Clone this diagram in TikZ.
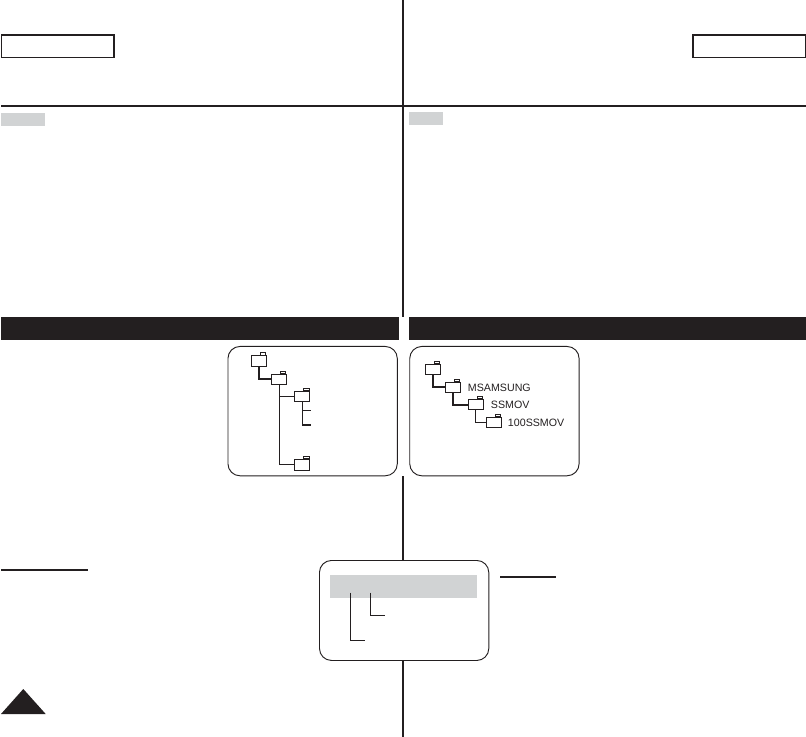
\documentclass[tikz,border=0pt]{standalone}
\usepackage{xcolor}
\usepackage{fontspec}
\setmainfont{Liberation Sans}
\usetikzlibrary{
  positioning
}
\definecolor{pgInk}{HTML}{231F20}
\definecolor{pgGrey}{HTML}{D1D3D4}
\tikzset{
  tabbox/.style={draw=pgInk, line width=1pt, inner sep=0pt, minimum width=84.2pt, minimum height=16.9pt, anchor=north west},
  greytag/.style={fill=pgGrey, inner sep=0pt, minimum height=10pt, anchor=north west},
  blackbar/.style={fill=pgInk, inner sep=0pt, minimum width=298pt, minimum height=17pt, anchor=north west},
  panel/.style={draw=pgInk, line width=.7pt, rounded corners=9pt, inner sep=0pt, minimum width=127pt, minimum height=97pt, anchor=north west},
  folder/.style={draw=pgInk, fill=white, line width=.6pt, inner sep=0pt, minimum width=11.4pt, minimum height=7.8pt},
  foldertab/.style={draw=pgInk, fill=white, line width=.5pt, inner sep=0pt, minimum width=4pt, minimum height=1.8pt, anchor=south east, xshift=-.7pt},
  thinlink/.style={draw=pgInk, line width=.75pt},
  thicklink/.style={draw=pgInk, line width=1.5pt},
  rulerline/.style={draw=pgInk, line width=1.5pt},
  dirlabel/.style={font=\fontsize{8}{9}\selectfont, text=pgInk, inner sep=0pt, anchor=west}
}
\begin{document}
\begin{tikzpicture}[x=.75pt, y=-.75pt]
  \useasboundingbox (0,0) rectangle (806,737);
  % page frame
  \draw[draw=pgInk, line width=.8pt] (403,0) -- (403,317);
  \draw[draw=pgInk, line width=.8pt] (403,476) -- (403,560);
  \draw[draw=pgInk, line width=.8pt] (403,660) -- (403,737);
  \draw[rulerline] (1,105.8) -- (806,105.8);
  \node[tabbox] (titleleft) at (1,34.3) {};
  \node[tabbox] (titleright) at (692.3,34.3) {};
  \node[greytag, minimum width=33pt] (tagleft) at (1,112.3) {};
  \node[greytag, minimum width=25pt] (tagright) at (409,111.7) {};
  \node[blackbar] (barleft) at (1,317) {};
  \node[blackbar] (barright) at (409,317) {};
  % left tree
  \node[panel] (treeleft) at (227.5,346) {};
  \foreach \name/\x/\y in {fa/259/361, fb/279/379.3, fc/302.2/396.7, fd/302.2/464.7} {
    \node[folder] (\name) at (\x,\y) {};
    \node[foldertab] at (\name.north east) {};
  }
  \coordinate (fcend) at (310.7,410.3);
  \coordinate (fcendb) at (310.7,425);
  \draw[thicklink] (fa.south) |- (fb.west);
  \draw[thinlink] (fb.south) |- (fc.west);
  \draw[thinlink] (fb.south) |- (fd.west);
  \draw[thinlink] (fc.south) |- (fcend);
  \draw[thinlink] (fc.south) |- (fcendb);
  \draw[thicklink] (fcendb -| fc.south) -- (fcendb);
  % right tree
  \node[panel] (treeright) at (409.3,346) {};
  \foreach \name/\x/\y in {ga/432.8/369.5, gb/452.8/387.5, gc/475.8/404.7, gd/493.7/422.7} {
    \node[folder] (\name) at (\x,\y) {};
    \node[foldertab] at (\name.north east) {};
  }
  \draw[thicklink] (ga.south) |- (gb.west);
  \draw[thicklink] (gb.south) |- (gc.west);
  \draw[thinlink] (gc.south) |- (gd.west);
  \node[dirlabel] (msamsung) at (467.7,387.5) {MSAMSUNG};
  \node[dirlabel] (ssmov) at (490.7,405) {SSMOV};
  \node[dirlabel] (hundred) at (507.7,422.5) {100SSMOV};
  % file name panel
  \draw[rulerline] (1,570) -- (88,570);
  \draw[rulerline] (500,576.7) -- (556,576.7);
  \node[panel, minimum height=75pt] (namebox) at (319,560) {};
  \node[fill=pgGrey, inner sep=0pt, minimum width=110.3pt, minimum height=17pt, anchor=north west] (namebar) at (330,575) {};
  \coordinate (numtop) at (370.3,592.7);
  \coordinate (numend) at (385,615.3);
  \coordinate (dirtop) at (350.3,592.7);
  \coordinate (dirend) at (365,640.3);
  \draw[thinlink] (numtop) |- (numend);
  \draw[thinlink] (dirtop) |- (dirend);
  % page corner
  \fill[pgInk] (1,714) -- (23.3,689) -- (45.7,714) -- cycle;
\end{tikzpicture}
\end{document}
